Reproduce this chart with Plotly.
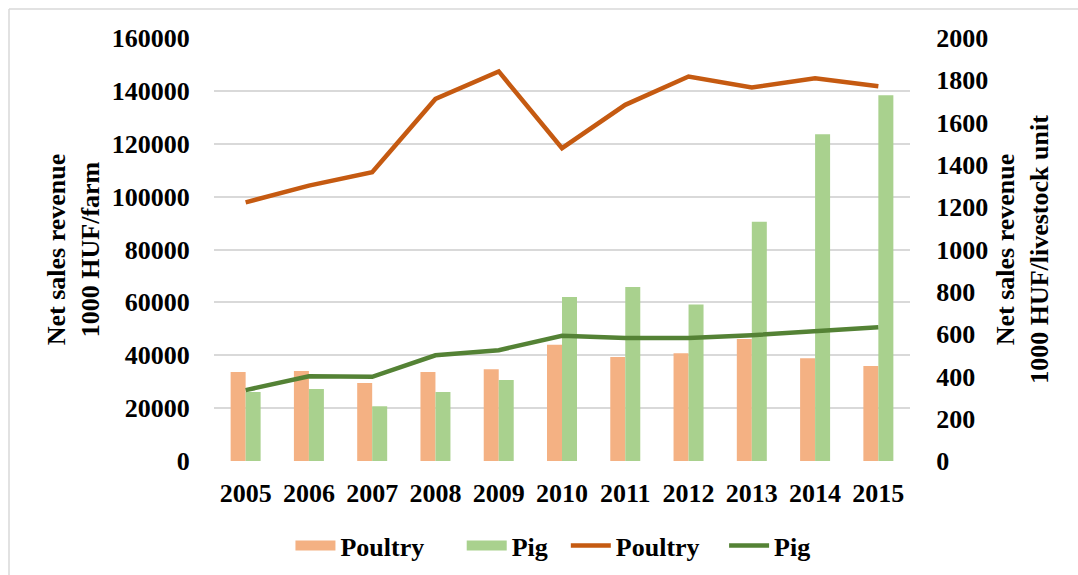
import plotly.graph_objects as go

years = ["2005", "2006", "2007", "2008", "2009", "2010", "2011", "2012", "2013", "2014", "2015"]
poultry_farm = [33700, 34000, 29500, 33700, 34700, 44000, 39300, 40800, 46100, 38900, 35900]
pig_farm = [26100, 27200, 20700, 26100, 30600, 62000, 65800, 59200, 90500, 123600, 138300]
poultry_lu = [1223, 1302, 1365, 1712, 1842, 1479, 1684, 1818, 1766, 1810, 1772]
pig_lu = [335, 401, 398, 500, 524, 592, 582, 582, 595, 614, 632]

FONT = "Times New Roman, Liberation Serif, serif"
FS = 26
L, R, T, B = 214, 168, 38, 114
W, H = 1078, 575
pw, ph = W - L - R, H - T - B

C_PB, C_GB, C_PL, C_GL = "#F4B183", "#A9D18E", "#C55A11", "#548235"
NB = "\u00a0"

fig = go.Figure()
fig.add_trace(go.Bar(x=years, y=poultry_farm, name="Poultry", marker_color=C_PB,
                     marker_line_width=0, showlegend=False))
fig.add_trace(go.Bar(x=years, y=pig_farm, name="Pig", marker_color=C_GB,
                     marker_line_width=0, showlegend=False))
# legend stand-ins for the bars (wide rectangle swatches)
fig.add_trace(go.Scatter(x=[None], y=[None], mode="lines", name="<b>Poultry</b>" + NB * 5,
                         line=dict(color=C_PB, width=14)))
fig.add_trace(go.Scatter(x=[None], y=[None], mode="lines", name="<b>Pig</b>" + NB * 2,
                         line=dict(color=C_GB, width=14)))
fig.add_trace(go.Scatter(x=years, y=poultry_lu, name="<b>Poultry</b>" + NB * 3, mode="lines",
                         yaxis="y2", line=dict(color=C_PL, width=4.5)))
fig.add_trace(go.Scatter(x=years, y=pig_lu, name="<b>Pig</b>", mode="lines", yaxis="y2",
                         line=dict(color=C_GL, width=4.5)))

tickfont = dict(family=FONT, size=FS, color="black")
fig.update_layout(
    width=W, height=H,
    margin=dict(l=L, r=R, t=T, b=B, autoexpand=False),
    paper_bgcolor="white", plot_bgcolor="white",
    font=dict(family=FONT, size=FS, color="black"),
    barmode="group", bargap=0.526, bargroupgap=0,
    xaxis=dict(type="category", tickfont=tickfont, showgrid=False, showline=False,
               ticks="outside", ticklen=9, tickcolor="rgba(0,0,0,0)"),
    yaxis=dict(range=[0, 160000], dtick=20000, tickformat="d", tickfont=tickfont, showgrid=True,
               gridcolor="#D9D9D9", gridwidth=1.5, zeroline=True, zerolinecolor="#D9D9D9",
               zerolinewidth=1.5, ticks="outside", ticklen=18, tickcolor="rgba(0,0,0,0)",
               title=dict(text="<b>Net sales revenue<br>1000 HUF/farm</b>",
                          font=dict(family=FONT, size=FS), standoff=4)),
    yaxis2=dict(range=[0, 2000], dtick=200, tickformat="d", overlaying="y", side="right",
                showgrid=False, tickfont=tickfont, ticks="outside", ticklen=20,
                tickcolor="rgba(0,0,0,0)",
                title=dict(text="<b>Net sales revenue<br>1000 HUF/livestock unit</b>",
                           font=dict(family=FONT, size=FS), standoff=8)),
    legend=dict(orientation="h", x=0.487, xanchor="center", y=-0.20, yanchor="middle",
                font=dict(family=FONT, size=FS), traceorder="normal",
                itemwidth=40, bgcolor="rgba(0,0,0,0)"),
    showlegend=True,
)
fig.update_xaxes(tickprefix="<b>", ticksuffix="</b>")
fig.update_yaxes(tickprefix="<b>", ticksuffix="</b>")

# outer chart border (left and top edges)
x0 = (9 - L) / pw
x1 = (W - L) / pw
y0 = (H - B - 9) / ph
y1 = (H - B - H) / ph
fig.add_shape(type="line", xref="paper", yref="paper", x0=x0, x1=x0, y0=y1, y1=y0,
              line=dict(color="#D9D9D9", width=1.5))
fig.add_shape(type="line", xref="paper", yref="paper", x0=x0, x1=x1, y0=y0, y1=y0,
              line=dict(color="#D9D9D9", width=1.5))

fig.write_html("out.html")
